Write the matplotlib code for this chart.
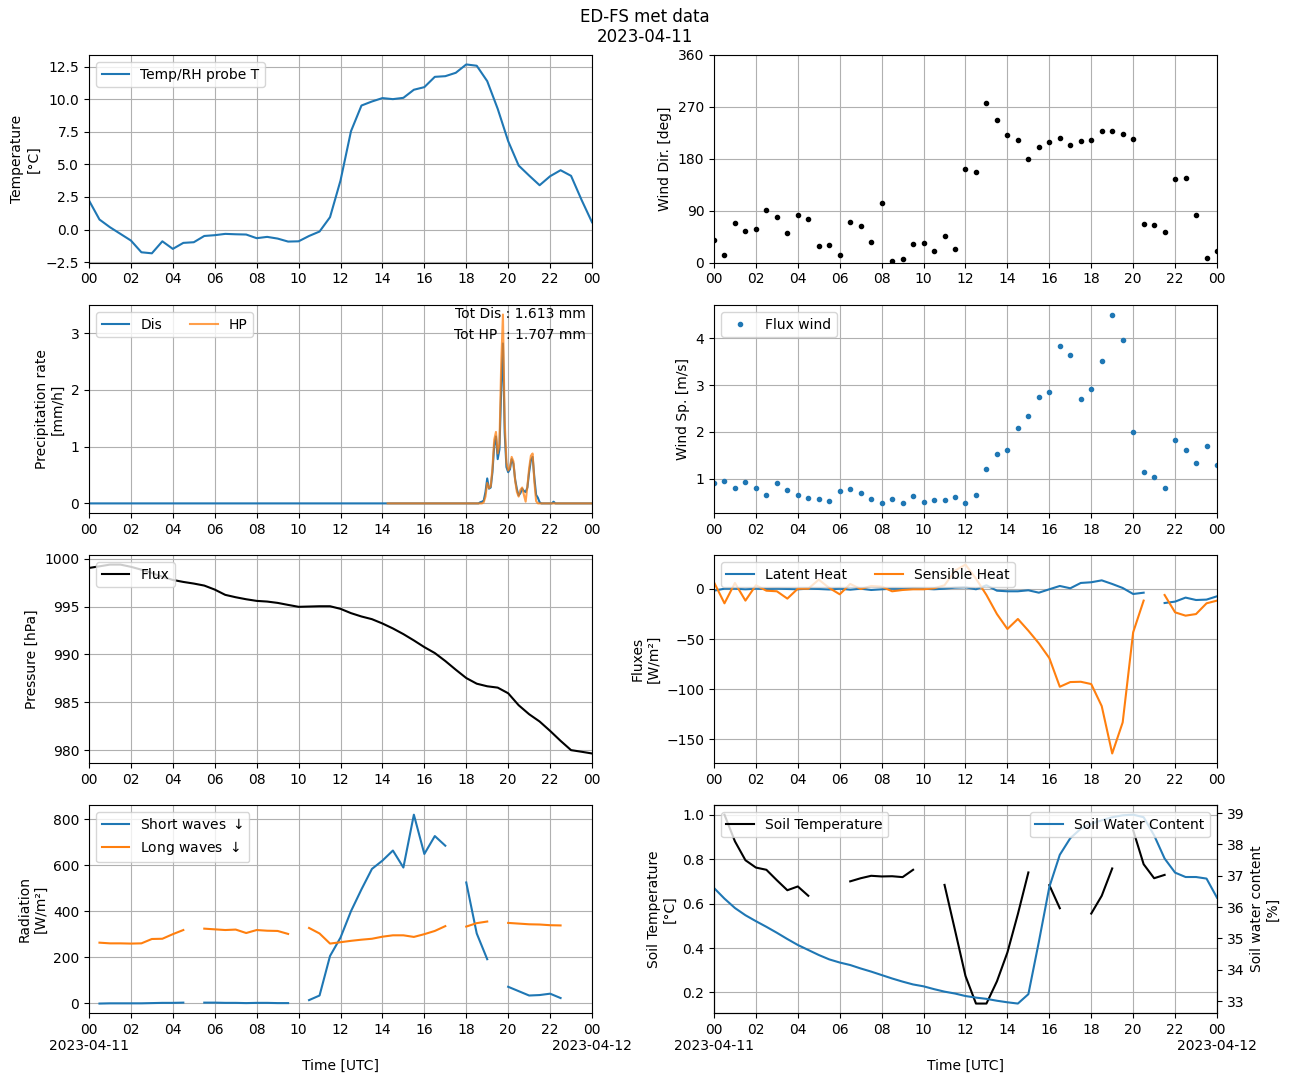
import numpy as np
import matplotlib
matplotlib.use("Agg")
import matplotlib.pyplot as plt

nan = np.nan

# ---------------- data (half-hourly, 00:00 .. 24:00) ----------------
hours = np.arange(0, 24.5, 0.5)

temp_T = [2.23, 0.77, 0.18, -0.33, -0.84, -1.74, -1.82, -0.90, -1.48, -1.02,
          -0.97, -0.49, -0.43, -0.33, -0.36, -0.38, -0.66, -0.56, -0.69, -0.92,
          -0.90, -0.49, -0.15, 0.95, 3.76, 7.54, 9.51, 9.82, 10.08, 10.00,
          10.10, 10.72, 10.92, 11.71, 11.76, 12.02, 12.66, 12.56, 11.38, 9.26,
          6.78, 4.91, 4.14, 3.40, 4.09, 4.55, 4.12, 2.28, 0.56]

wind_dir = [39, 13, 69, 55, 58, 91, 79, 51, 83, 76,
            29, 31, 13, 71, 64, 36, 103, 3, 6, 32,
            34, 20, 46, 24, 162, 157, 277, 247, 221, 213,
            180, 201, 209, 216, 204, 211, 213, 228, 228, 223,
            214, 67, 65, 53, 145, 147, 83, 8, 20]

wind_sp = [0.90, 0.94, 0.81, 0.92, 0.81, 0.64, 0.90, 0.75, 0.64, 0.58,
           0.56, 0.52, 0.73, 0.77, 0.69, 0.56, 0.47, 0.56, 0.47, 0.62,
           0.49, 0.54, 0.54, 0.60, 0.47, 0.64, 1.20, 1.52, 1.61, 2.08,
           2.33, 2.75, 2.85, 3.83, 3.64, 2.70, 2.91, 3.51, 4.51, 3.96,
           1.99, 1.14, 1.03, 0.81, 1.82, 1.61, 1.33, 1.69, 1.29]

pressure = [999.03, 999.20, 999.38, 999.38, 999.15, 998.85, 998.50, 998.10, 997.78, 997.57,
            997.40, 997.19, 996.77, 996.22, 995.97, 995.76, 995.59, 995.52, 995.38, 995.17,
            994.97, 995.00, 995.03, 995.03, 994.76, 994.31, 993.96, 993.68, 993.23, 992.71,
            992.12, 991.46, 990.76, 990.14, 989.31, 988.40, 987.53, 986.94, 986.67, 986.53,
            985.94, 984.69, 983.75, 982.99, 982.01, 980.97, 980.00, 979.83, 979.65]

latent = [-1.7, 0.3, 0.3, -0.3, 0.3, 0.0, 0.3, 0.0, -0.3, 0.3,
          0.0, -0.5, 0.3, -0.7, 0.3, -1.0, -0.3, 0.3, 0.0, 0.7,
          0.3, -0.3, 0.3, 1.3, 1.7, -0.3, 3.7, -1.7, -2.3, -2.3,
          -1.3, -3.7, -0.3, 3.0, 0.7, 6.0, 6.7, 8.6, 5.0, 1.0,
          -5.0, -3.7, nan, -14.0, -12.6, -8.6, -11.0, -10.6, -7.3]

sensible = [6.7, -14.3, 6.0, -11.6, 3.7, -1.7, -2.3, -9.6, 0.3, 0.3,
            9.3, 1.0, -5.3, 5.0, 0.0, 3.0, 2.3, -2.3, -1.0, -0.3,
            -0.3, 0.7, 3.7, 18.3, 24.3, 10.3, -6.0, -25.0, -39.9, -29.9,
            -41.6, -54.2, -68.9, -97.5, -92.8, -92.5, -94.8, -116.8, -164.0, -133.0,
            -43.2, -11.6, nan, -6.0, -23.3, -26.6, -25.0, -14.3, -11.6]

short_wave = [nan, -2, -1, -1, -1, -1, 0, 1, 1, 2,
              nan, 2, 2, 1, 1, 0, 1, 1, 0, 0,
              nan, 13, 33, 205, 285, 400, 495, 584, 620, 664,
              590, 820, 649, 727, 685, nan, 525, 303, 191, nan,
              71, 52, 33, 35, 41, 22, nan, nan, nan]

long_wave = [nan, 263, 260, 260, 259, 260, 279, 280, 300, 318,
             nan, 324, 321, 318, 320, 305, 318, 315, 314, 301,
             nan, 327, 303, 259, 265, 271, 276, 280, 289, 295,
             295, 288, 300, 314, 335, nan, 333, 348, 355, nan,
             349, 346, 343, 342, 339, 338, nan, nan, nan]

soil_T = [nan, 1.00, 0.88, 0.795, 0.762, 0.752, 0.705, 0.66, 0.677, 0.635,
          nan, nan, nan, 0.70, 0.714, 0.725, 0.722, 0.723, 0.719, 0.752,
          nan, nan, 0.684, 0.48, 0.274, 0.150, 0.150, 0.25, 0.38, 0.553,
          0.74, nan, 0.683, 0.579, nan, nan, 0.555, 0.635, 0.758, nan,
          0.93, 0.777, 0.714, 0.729, nan, nan, nan, nan, nan]

soil_wc = [36.61, 36.27, 35.97, 35.74, 35.55, 35.37, 35.18, 34.98, 34.79, 34.63,
           34.47, 34.33, 34.23, 34.15, 34.04, 33.94, 33.83, 33.72, 33.62, 33.53,
           33.47, 33.38, 33.30, 33.24, 33.16, 33.11, 33.07, 33.01, 32.96, 32.92,
           33.22, 34.89, 36.64, 37.67, 38.20, 38.50, 38.66, 38.77, 38.87, 38.93,
           38.95, 38.87, 38.29, 37.55, 37.10, 36.96, 36.96, 36.91, 36.30]

# precipitation (minutes after 00:00)
dis_min = [0, 1110, 1115, 1120, 1125, 1130, 1135, 1140, 1145, 1150, 1155,
           1160, 1165, 1170, 1175, 1180, 1185, 1190, 1195, 1200, 1205,
           1210, 1215, 1220, 1225, 1230, 1235, 1240, 1245, 1250, 1255,
           1260, 1265, 1270, 1275, 1280, 1285, 1290, 1295, 1325, 1330, 1335, 1440]
dis_rate = [0, 0, 0, 0.02, 0.03, 0.05, 0.20, 0.44, 0.26, 0.28, 0.55,
            1.02, 1.18, 0.78, 0.95, 2.00, 2.82, 1.25, 0.64, 0.55, 0.60,
            0.78, 0.70, 0.42, 0.25, 0.14, 0.18, 0.26, 0.22, 0.20, 0.28,
            0.55, 0.76, 0.82, 0.45, 0.15, 0.10, 0.02, 0, 0, 0.03, 0, 0]

hp_min = [855, 1110, 1115, 1120, 1125, 1130, 1135, 1140, 1145, 1150, 1155,
          1160, 1165, 1170, 1175, 1180, 1185, 1190, 1195, 1200, 1205,
          1210, 1215, 1220, 1225, 1230, 1235, 1240, 1245, 1250, 1255,
          1260, 1265, 1270, 1275, 1280, 1285, 1290, 1295, 1440]
hp_rate = [0, 0, 0, 0, 0, 0.02, 0.12, 0.36, 0.27, 0.30, 0.62,
           1.12, 1.26, 0.88, 1.05, 2.45, 3.33, 1.45, 0.72, 0.58, 0.63,
           0.82, 0.74, 0.40, 0.20, 0.12, 0.24, 0.28, 0.15, 0.03, 0.30,
           0.62, 0.84, 0.88, 0.38, 0.04, 0.0, 0.0, 0, 0]

tot_dis = 1.613
tot_hp = 1.707

tick_hours = list(range(0, 25, 2))
tick_labels = ["%02d" % (h % 24) for h in tick_hours]
bottom_labels = list(tick_labels)
bottom_labels[0] = "00\n2023-04-11"
bottom_labels[-1] = "00\n2023-04-12"

# ---------------- figure ----------------
fig, axs = plt.subplots(4, 2, figsize=(12.9, 10.82), dpi=100)
fig.subplots_adjust(left=89/1290, right=1217/1290, top=1-55/1082, bottom=1-1013/1082,
                    wspace=0.2425, hspace=0.2037)
fig.suptitle("ED-FS met data\n2023-04-11", y=0.993, fontsize=12)

for i, ax in enumerate(axs.flat):
    ax.set_xlim(0, 24)
    ax.set_xticks(tick_hours)
    ax.set_xticklabels(bottom_labels if i >= 6 else tick_labels)
    ax.grid(True)

# Temperature
ax = axs[0, 0]
ax.plot(hours, temp_T, color="C0", label="Temp/RH probe T")
ax.set_ylabel("Temperature\n[°C]")
ax.legend(loc="upper left")

# Wind direction
ax = axs[0, 1]
ax.plot(hours, wind_dir, ".", color="black")
ax.set_ylim(0, 360)
ax.set_yticks([0, 90, 180, 270, 360])
ax.set_ylabel("Wind Dir. [deg]")

# Precipitation
ax = axs[1, 0]
ax.plot(np.array(dis_min) / 60, dis_rate, color="C0", label="Dis")
ax.plot(np.array(hp_min) / 60, hp_rate, color="C1", alpha=0.75, label="HP")
ax.set_ylabel("Precipitation rate\n[mm/h]")
ax.legend(loc="upper left", ncol=2)
ax.text(0.988, 0.957, "Tot Dis : %.3f mm" % tot_dis, transform=ax.transAxes,
        ha="right", va="center")
ax.text(0.988, 0.856, "Tot HP  : %.3f mm" % tot_hp, transform=ax.transAxes,
        ha="right", va="center")

# Wind speed
ax = axs[1, 1]
ax.plot(hours, wind_sp, ".", color="C0", label="Flux wind")
ax.set_ylabel("Wind Sp. [m/s]")
ax.legend(loc="upper left")

# Pressure
ax = axs[2, 0]
ax.plot(hours, pressure, color="black", label="Flux")
ax.set_ylabel("Pressure [hPa]")
ax.legend(loc="upper left")

# Fluxes
ax = axs[2, 1]
ax.plot(hours, latent, color="C0", label="Latent Heat")
ax.plot(hours, sensible, color="C1", label="Sensible Heat")
ax.set_ylabel("Fluxes\n[W/m²]")
ax.legend(loc="upper left", ncol=2)

# Radiation
ax = axs[3, 0]
ax.plot(hours, short_wave, color="C0", label=r"Short waves $\downarrow$")
ax.plot(hours, long_wave, color="C1", label=r"Long waves $\downarrow$")
ax.set_ylabel("Radiation\n[W/m²]")
ax.set_xlabel("Time [UTC]")
ax.legend(loc="upper left")

# Soil
ax = axs[3, 1]
ax.plot(hours, soil_T, color="black", label="Soil Temperature")
ax.set_ylabel("Soil Temperature\n[°C]")
ax.set_xlabel("Time [UTC]")
ax.legend(loc="upper left")
ax2 = ax.twinx()
ax2.plot(hours, soil_wc, color="C0", label="Soil Water Content")
ax2.set_ylabel("Soil water content\n[%]")
ax2.legend(loc="upper right")
ax2.set_xlim(0, 24)

fig.savefig("out.png", dpi=100)
